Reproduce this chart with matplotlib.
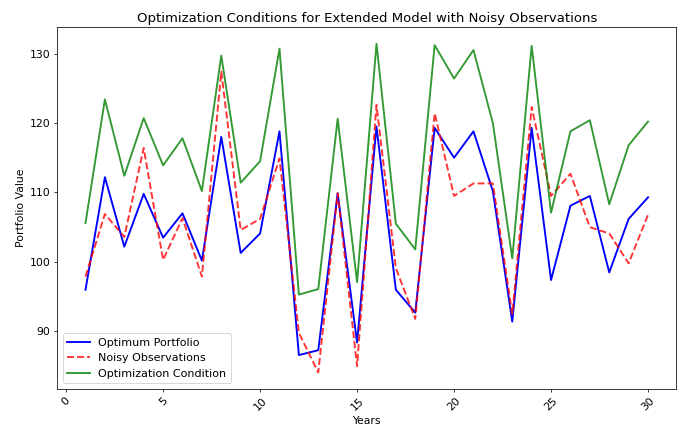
import numpy as np
import matplotlib
matplotlib.use("Agg")
import matplotlib.pyplot as plt

years = np.arange(1, 31)
optimum = [96.0, 112.2, 102.2, 109.8, 103.5, 107.0, 100.2, 118.0, 101.3, 104.1,
           118.8, 86.6, 87.3, 109.9, 88.4, 119.5, 96.0, 92.7, 119.3, 115.0,
           118.8, 110.2, 91.4, 119.3, 97.4, 108.1, 109.5, 98.5, 106.2, 109.3]
noisy = [97.9, 106.9, 103.6, 116.4, 100.3, 106.3, 97.9, 127.4, 104.6, 106.2,
         114.9, 89.8, 84.1, 109.9, 85.0, 122.6, 99.1, 91.8, 121.4, 109.5,
         111.3, 111.3, 92.5, 122.3, 109.5, 112.7, 105.0, 104.1, 99.8, 106.8]
condition = [105.6, 123.4, 112.4, 120.7, 113.9, 117.8, 110.2, 129.7, 111.4, 114.5,
             130.7, 95.3, 96.1, 120.6, 97.1, 131.4, 105.5, 101.8, 131.2, 126.4,
             130.5, 120.0, 100.5, 131.1, 107.1, 118.8, 120.4, 108.3, 116.8, 120.2]

plt.rcParams["font.size"] = 12
fig, ax = plt.subplots(figsize=(10, 434 / 68.3), dpi=68.3)
ax.plot(years, optimum, "b-", lw=2, label="Optimum Portfolio")
ax.plot(years, noisy, "r--", lw=2, alpha=0.8, label="Noisy Observations")
ax.plot(years, condition, "g-", lw=2, alpha=0.8, label="Optimization Condition")
ax.set_title("Optimization Conditions for Extended Model with Noisy Observations",
             fontsize=14)
ax.set_xlabel("Years", fontsize=11.5)
ax.set_ylabel("Portfolio Value", fontsize=11.5)
ax.tick_params(axis="both", labelsize=11.5)
ax.tick_params(axis="x", labelrotation=45)
ax.legend(loc="lower left", fontsize=11.7)
fig.subplots_adjust(left=0.084, right=0.99, top=0.937, bottom=0.104)
fig.savefig("out.png", dpi=68.3)
